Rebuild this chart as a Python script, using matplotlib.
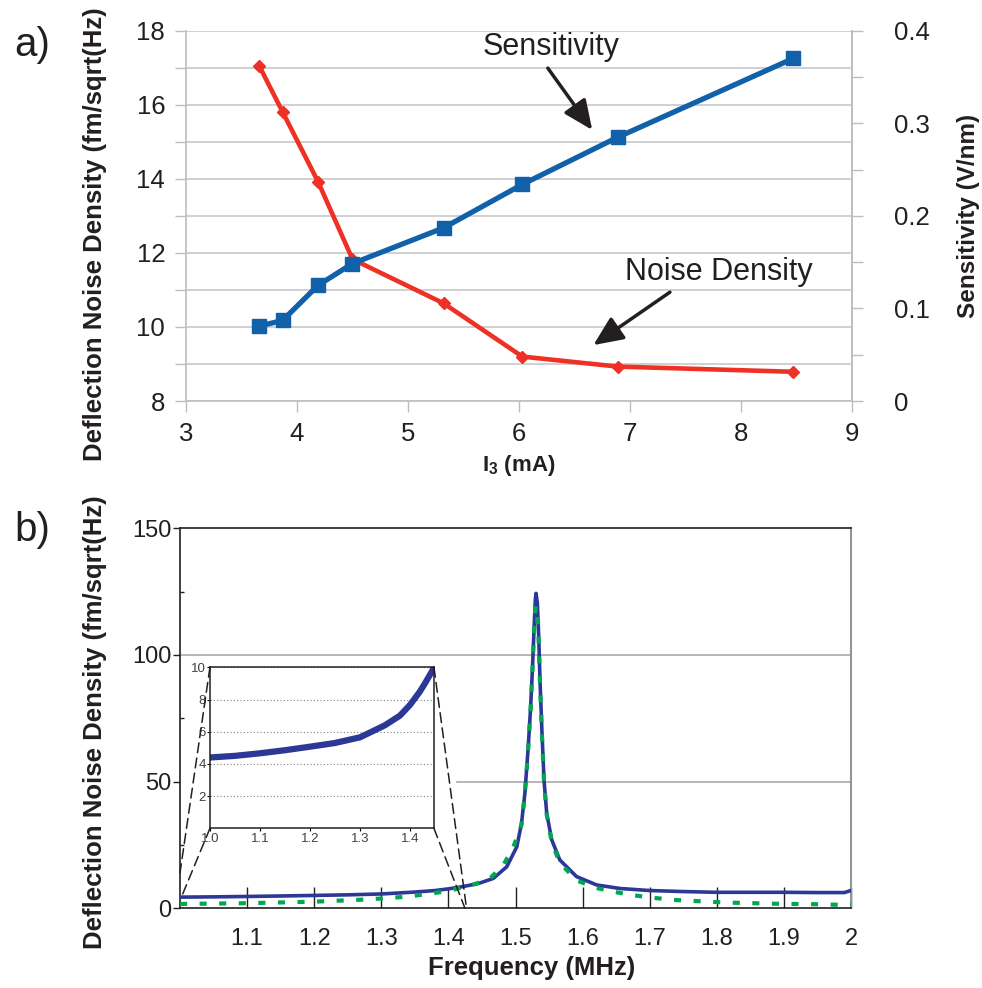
import matplotlib
matplotlib.use('Agg')
import matplotlib.pyplot as plt
from matplotlib.patches import ConnectionPatch
from matplotlib.ticker import MultipleLocator

plt.rcParams['font.family'] = ['Liberation Sans', 'DejaVu Sans']
plt.rcParams['mathtext.fontset'] = 'custom'
plt.rcParams['mathtext.rm'] = 'Liberation Sans'
plt.rcParams['mathtext.bf'] = 'Liberation Sans:bold'

# a) noise density and sensitivity vs bias current
corriente = [3.66, 3.87, 4.19, 4.50, 5.32, 6.03, 6.89, 8.47]          # mA
ruido = [17.05, 15.81, 13.92, 11.83, 10.64, 9.20, 8.93, 8.79]          # fm/sqrt(Hz)
sensibilidad = [0.081, 0.087, 0.125, 0.1485, 0.187, 0.234, 0.285, 0.370]  # V/nm

# b) measured spectrum (MHz, fm/sqrt(Hz))
frecuencia = [1.00, 1.05, 1.10, 1.15, 1.20, 1.25, 1.30, 1.35, 1.38, 1.40, 1.42,
              1.43, 1.445, 1.467, 1.487, 1.502, 1.509, 1.514, 1.519, 1.5226,
              1.5256, 1.5276, 1.5295, 1.5306, 1.5326, 1.5346, 1.5365, 1.5395,
              1.5425, 1.5465, 1.554, 1.566, 1.591, 1.621, 1.656, 1.70, 1.75,
              1.80, 1.85, 1.90, 1.95, 1.99, 2.00]
medido = [4.4, 4.5, 4.66, 4.85, 5.07, 5.3, 5.65, 6.4, 7.0, 7.66, 8.5,
          9.0, 9.8, 11.8, 16.4, 24.3, 33.6, 45.4, 63.8, 79.6,
          96.7, 109.9, 121.7, 124.3, 120.4, 107.2, 90.1, 69.1,
          50.6, 37.5, 27.0, 19.1, 12.5, 9.2, 7.8, 7.0, 6.6,
          6.3, 6.3, 6.3, 6.2, 6.2, 7.0]

# b) fitted curve
frecuencia_ajuste = [1.00, 1.10, 1.20, 1.28, 1.34, 1.40, 1.44, 1.462, 1.482, 1.497,
                     1.509, 1.514, 1.519, 1.5226, 1.5256, 1.5276, 1.5295, 1.5306,
                     1.532, 1.5346, 1.5365, 1.5395, 1.5425, 1.5465, 1.554, 1.566,
                     1.591, 1.621, 1.641, 1.671, 1.703, 1.735, 1.765, 1.795, 1.824,
                     1.854, 1.884, 1.915, 1.946, 1.976, 2.00]
ajuste = [1.7, 2.0, 2.6, 3.5, 4.6, 6.8, 9.6, 11.8, 17.1, 24.3,
          33.0, 45.0, 63.0, 79.0, 96.0, 109.0, 117.5, 119.5,
          117.0, 105.0, 89.0, 68.0, 50.0, 37.0, 26.0, 18.0,
          11.0, 8.0, 6.8, 5.3, 4.2, 3.3, 2.9, 2.5, 2.2,
          2.0, 1.8, 1.7, 1.6, 1.4, 1.4]

rojo = '#EE3124'
azul = '#1160AA'
azul_osc = '#2B3896'
verde = '#00A650'
gris = '#BCBEC0'
negro = '#231F20'

fig = plt.figure(figsize=(9.82, 9.88), dpi=100)

# ---------- a) ----------
ax = fig.add_axes([0.1894, 0.5941, 0.6782, 0.3748])
ax.plot(corriente, ruido, color=rojo, lw=3.3, marker='D', ms=6.5, zorder=3)
ax.set_xlim(3, 9)
ax.set_ylim(8, 18)
ax.set_xticks([3, 4, 5, 6, 7, 8, 9])
ax.set_yticks([8, 10, 12, 14, 16, 18])
ax.set_yticks([9, 11, 13, 15, 17], minor=True)
ax.grid(which='both', axis='y', color='#C7C8CA', lw=1.2)
ax.tick_params(which='both', direction='out', length=8, width=1, color=gris,
               labelsize=18.5, labelcolor=negro, pad=7)
for s in ['left', 'bottom', 'right']:
    ax.spines[s].set_color(gris)
    ax.spines[s].set_linewidth(1.2)
ax.spines['top'].set_visible(False)

ax2 = ax.twinx()
ax2.plot(corriente, sensibilidad, color=azul, lw=3.8, marker='s', ms=10, zorder=3)
ax2.set_ylim(0, 0.4)
ax2.set_yticks([0, 0.1, 0.2, 0.3, 0.4])
ax2.set_yticklabels(['0', '0.1', '0.2', '0.3', '0.4'])
ax2.set_yticks([0.05, 0.15, 0.25, 0.35], minor=True)
ax2.tick_params(which='both', direction='out', length=8, width=1, color=gris,
                labelsize=18.5, labelcolor=negro, pad=22)
ax2.spines['right'].set_color(gris)
ax2.spines['right'].set_linewidth(1.2)
ax2.spines['top'].set_visible(False)
ax2.spines['left'].set_visible(False)
ax2.spines['bottom'].set_visible(False)

flecha = dict(arrowstyle='-|>,head_length=0.45,head_width=0.2', lw=2.5,
              color=negro, mutation_scale=40, shrinkA=0, shrinkB=0)
ax.annotate('', xy=(6.66, 15.32), xytext=(6.26, 16.99), arrowprops=flecha)
ax.annotate('', xy=(6.67, 9.51), xytext=(7.36, 10.94), arrowprops=flecha)
ax.text(6.29, 17.56, 'Sensitivity', fontsize=22, color=negro, ha='center', va='center')
ax.text(7.80, 11.48, 'Noise Density', fontsize=22, color=negro, ha='center', va='center')

fig.text(95 / 982, 1 - 234 / 988, 'Deflection Noise Density (fm/sqrt(Hz)',
         rotation=90, fontsize=18.5, fontweight='bold', ha='center', va='center', color=negro)
fig.text(968 / 982, 1 - 216 / 988, 'Sensitivity (V/nm)', rotation=90,
         fontsize=17.5, fontweight='bold', ha='center', va='center', color=negro)
fig.text(519 / 982, 1 - 465 / 988, r'$\mathbf{I}_\mathbf{3}$ (mA)', fontsize=16,
         fontweight='bold', ha='center', va='center', color=negro)
fig.text(32 / 982, 1 - 45 / 988, 'a)', fontsize=29, ha='center', va='center', color=negro)

# ---------- b) ----------
bx = fig.add_axes([0.1833, 0.0807, 0.6833, 0.3846])
bx.plot(frecuencia, medido, color=azul_osc, lw=2.6, zorder=3)
bx.plot(frecuencia_ajuste, ajuste, color=verde, lw=3, dashes=(1.7, 3.0), zorder=4)
bx.set_xlim(1.0, 2.0)
bx.set_ylim(0, 150)
bx.set_xticks([1.1, 1.2, 1.3, 1.4, 1.5, 1.6, 1.7, 1.8, 1.9, 2.0])
bx.set_xticklabels(['1.1', '1.2', '1.3', '1.4', '1.5', '1.6', '1.7', '1.8', '1.9', '2'])
bx.set_yticks([0, 50, 100, 150])
bx.set_yticks([25, 75, 125], minor=True)
bx.tick_params(axis='x', direction='in', length=15, width=1, color=negro,
               labelsize=17, labelcolor=negro, pad=14)
bx.tick_params(axis='y', which='major', direction='out', length=5, width=1,
               color=negro, labelsize=17, labelcolor=negro, pad=1)
bx.tick_params(axis='y', which='minor', direction='in', length=3, width=1, color=negro)
bx.axhline(100, color='#A7A9AC', lw=1.2, zorder=1)
bx.axhline(50, xmin=0.413, color='#A7A9AC', lw=1.2, zorder=1)
for s in ['left', 'bottom', 'top']:
    bx.spines[s].set_color(negro)
    bx.spines[s].set_linewidth(1.2)
bx.spines['right'].set_color('#939598')
bx.spines['right'].set_linewidth(1.5)

fig.text(95 / 982, 1 - 722 / 988, 'Deflection Noise Density (fm/sqrt(Hz)',
         rotation=90, fontsize=18.5, fontweight='bold', ha='center', va='center', color=negro)
fig.text(532 / 982, 1 - 968 / 988, 'Frequency (MHz)', fontsize=18.5,
         fontweight='bold', ha='center', va='center', color=negro)
fig.text(32 / 982, 1 - 530 / 988, 'b)', fontsize=29, ha='center', va='center', color=negro)

# inset: low-frequency part of the measured spectrum
ins = fig.add_axes([0.2138, 0.1616, 0.2281, 0.163])
ins.plot(frecuencia, medido, color=azul_osc, lw=4.5, solid_capstyle='round')
ins.set_xlim(1.0, 1.448)
ins.set_ylim(0, 10)
ins.set_xticks([1.0, 1.1, 1.2, 1.3, 1.4])
ins.set_xticklabels(['1.0', '1.1', '1.2', '1.3', '1.4'])
ins.set_yticks([2, 4, 6, 8, 10])
ins.grid(axis='y', color='#808285', lw=0.8, linestyle=(0, (1, 2)))
ins.tick_params(length=2, width=0.8, labelsize=9.5, labelcolor='#414042', pad=1)
for s in ins.spines.values():
    s.set_color(negro)
    s.set_linewidth(1.1)

# dashed lines tying the inset to its region in the spectrum
for xa, ya, xb, yb in [(1.0, 10, 1.0, 14), (1.0, 0, 1.003, 5),
                       (1.448, 10, 1.427, 0), (1.448, 0, 1.4247, 0)]:
    con = ConnectionPatch(xyA=(xa, ya), coordsA=ins.transData,
                          xyB=(xb, yb), coordsB=bx.transData,
                          color=negro, lw=1.1, linestyle=(0, (6.5, 3.5)))
    fig.add_artist(con)

fig.savefig('out.png', dpi=100)
